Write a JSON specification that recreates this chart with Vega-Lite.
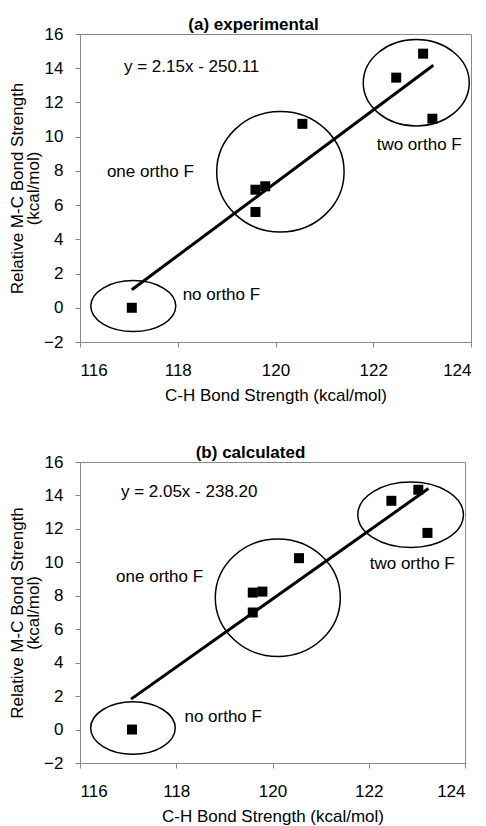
{
  "$schema": "https://vega.github.io/schema/vega-lite/v6.json",
  "padding": {"left": 8, "top": 15, "right": 10, "bottom": 0},
  "spacing": 39,
  "config": {
    "font": "Liberation Sans",
    "view": {"stroke": "#888", "strokeWidth": 1},
    "axis": {
      "grid": false,
      "domainColor": "#888",
      "tickColor": "#888",
      "tickSize": 5,
      "labelFont": "Liberation Sans",
      "labelFontSize": 17,
      "labelColor": "#000",
      "titleFont": "Liberation Sans",
      "titleFontSize": 17,
      "titleFontWeight": "normal",
      "titleColor": "#000"
    },
    "title": {"font": "Liberation Sans", "fontSize": 17, "fontWeight": "bold", "color": "#000", "anchor": "middle", "offset": -9, "dx": -22}
  },
  "datasets": {
    "expPoints": [
      {"ch": 117.06, "mc": 0.0},
      {"ch": 119.59, "mc": 5.6},
      {"ch": 119.59, "mc": 6.9},
      {"ch": 119.79, "mc": 7.1},
      {"ch": 120.55, "mc": 10.75},
      {"ch": 122.47, "mc": 13.45},
      {"ch": 123.02, "mc": 14.85},
      {"ch": 123.21, "mc": 11.05}
    ],
    "expLine": [
      {"ch": 117.06, "mc": 1.05},
      {"ch": 123.23, "mc": 14.17}
    ],
    "expEllipses": [
      {"group": "no", "ch": 117.09, "mc": 0.1},
      {"group": "one", "ch": 120.1, "mc": 7.95},
      {"group": "two", "ch": 122.88, "mc": 13.15}
    ],
    "expLabels": [
      {"label": "y = 2.15x - 250.11", "ch": 116.9, "mc": 14.07},
      {"label": "one ortho F", "ch": 116.55, "mc": 7.93},
      {"label": "two ortho F", "ch": 122.07, "mc": 9.49},
      {"label": "no ortho F", "ch": 118.1, "mc": 0.76}
    ],
    "calcPoints": [
      {"ch": 117.08, "mc": 0.0},
      {"ch": 119.59, "mc": 7.0},
      {"ch": 119.59, "mc": 8.19},
      {"ch": 119.79, "mc": 8.25},
      {"ch": 120.55, "mc": 10.25},
      {"ch": 122.47, "mc": 13.68},
      {"ch": 123.03, "mc": 14.34},
      {"ch": 123.22, "mc": 11.76}
    ],
    "calcLine": [
      {"ch": 117.06, "mc": 1.82},
      {"ch": 123.24, "mc": 14.41}
    ],
    "calcEllipses": [
      {"group": "no", "ch": 117.1, "mc": 0.09},
      {"group": "one", "ch": 120.11, "mc": 7.88},
      {"group": "two", "ch": 122.87, "mc": 12.85}
    ],
    "calcLabels": [
      {"label": "y = 2.05x - 238.20", "ch": 116.85, "mc": 14.2},
      {"label": "one ortho F", "ch": 116.75, "mc": 9.15},
      {"label": "two ortho F", "ch": 122.02, "mc": 9.89},
      {"label": "no ortho F", "ch": 118.17, "mc": 0.78}
    ]
  },
  "vconcat": [
    {
      "title": "(a) experimental",
      "width": 391,
      "height": 308,
      "encoding": {
        "x": {"field": "ch", "type": "quantitative", "scale": {"domain": [116, 124], "nice": false, "zero": false},
              "axis": {"values": [116, 118, 120, 122, 124], "title": "C-H Bond Strength  (kcal/mol)", "labelPadding": 15, "titlePadding": 9}},
        "y": {"field": "mc", "type": "quantitative", "scale": {"domain": [-2, 16], "nice": false, "zero": false},
              "axis": {"values": [-2, 0, 2, 4, 6, 8, 10, 12, 14, 16], "title": ["Relative M-C Bond Strength", "(kcal/mol)"], "titleLineHeight": 16, "labelPadding": 12, "titlePadding": 1}}
      },
      "layer": [
        {"data": {"name": "expEllipses"}, "transform": [{"filter": "datum.group === 'no'"}],
         "mark": {"type": "point", "filled": false, "stroke": "#000", "strokeWidth": 1.5, "opacity": 1, "size": 7225,
                  "shape": "M-1,0C-1,-0.3314,-0.5523,-0.6,0,-0.6C0.5523,-0.6,1,-0.3314,1,0C1,0.3314,0.5523,0.6,0,0.6C-0.5523,0.6,-1,0.3314,-1,0Z"}},
        {"data": {"name": "expEllipses"}, "transform": [{"filter": "datum.group === 'one'"}],
         "mark": {"type": "point", "filled": false, "stroke": "#000", "strokeWidth": 1.5, "opacity": 1, "size": 16231,
                  "shape": "M-1,0C-1,-0.523,-0.5523,-0.947,0,-0.947C0.5523,-0.947,1,-0.523,1,0C1,0.523,0.5523,0.947,0,0.947C-0.5523,0.947,-1,0.523,-1,0Z"}},
        {"data": {"name": "expEllipses"}, "transform": [{"filter": "datum.group === 'two'"}],
         "mark": {"type": "point", "filled": false, "stroke": "#000", "strokeWidth": 1.5, "opacity": 1, "size": 11236,
                  "shape": "M-1,0C-1,-0.4501,-0.5523,-0.815,0,-0.815C0.5523,-0.815,1,-0.4501,1,0C1,0.4501,0.5523,0.815,0,0.815C-0.5523,0.815,-1,0.4501,-1,0Z"}},
        {"data": {"name": "expLine"}, "mark": {"type": "line", "color": "#000", "strokeWidth": 3}},
        {"data": {"name": "expPoints"}, "mark": {"type": "point", "shape": "square", "filled": true, "color": "#000", "opacity": 1, "size": 100}},
        {"data": {"name": "expLabels"}, "mark": {"type": "text", "align": "left", "baseline": "middle", "fontSize": 17, "color": "#000"},
         "encoding": {"text": {"field": "label"}}}
      ]
    },
    {
      "title": "(b) calculated",
      "width": 385,
      "height": 301,
      "encoding": {
        "x": {"field": "ch", "type": "quantitative", "scale": {"domain": [116, 124], "nice": false, "zero": false},
              "axis": {"values": [116, 118, 120, 122, 124], "title": "C-H Bond Strength  (kcal/mol)", "labelPadding": 15, "titlePadding": 9}},
        "y": {"field": "mc", "type": "quantitative", "scale": {"domain": [-2, 16], "nice": false, "zero": false},
              "axis": {"values": [-2, 0, 2, 4, 6, 8, 10, 12, 14, 16], "title": ["Relative M-C Bond Strength", "(kcal/mol)"], "titleLineHeight": 16, "labelPadding": 12, "titlePadding": 1}}
      },
      "layer": [
        {"data": {"name": "calcEllipses"}, "transform": [{"filter": "datum.group === 'no'"}],
         "mark": {"type": "point", "filled": false, "stroke": "#000", "strokeWidth": 1.5, "opacity": 1, "size": 7157,
                  "shape": "M-1,0C-1,-0.3424,-0.5523,-0.62,0,-0.62C0.5523,-0.62,1,-0.3424,1,0C1,0.3424,0.5523,0.62,0,0.62C-0.5523,0.62,-1,0.3424,-1,0Z"}},
        {"data": {"name": "calcEllipses"}, "transform": [{"filter": "datum.group === 'one'"}],
         "mark": {"type": "point", "filled": false, "stroke": "#000", "strokeWidth": 1.5, "opacity": 1, "size": 15625,
                  "shape": "M-1,0C-1,-0.5192,-0.5523,-0.94,0,-0.94C0.5523,-0.94,1,-0.5192,1,0C1,0.5192,0.5523,0.94,0,0.94C-0.5523,0.94,-1,0.5192,-1,0Z"}},
        {"data": {"name": "calcEllipses"}, "transform": [{"filter": "datum.group === 'two'"}],
         "mark": {"type": "point", "filled": false, "stroke": "#000", "strokeWidth": 1.5, "opacity": 1, "size": 11151,
                  "shape": "M-1,0C-1,-0.3424,-0.5523,-0.62,0,-0.62C0.5523,-0.62,1,-0.3424,1,0C1,0.3424,0.5523,0.62,0,0.62C-0.5523,0.62,-1,0.3424,-1,0Z"}},
        {"data": {"name": "calcLine"}, "mark": {"type": "line", "color": "#000", "strokeWidth": 3}},
        {"data": {"name": "calcPoints"}, "mark": {"type": "point", "shape": "square", "filled": true, "color": "#000", "opacity": 1, "size": 100}},
        {"data": {"name": "calcLabels"}, "mark": {"type": "text", "align": "left", "baseline": "middle", "fontSize": 17, "color": "#000"},
         "encoding": {"text": {"field": "label"}}}
      ]
    }
  ]
}
